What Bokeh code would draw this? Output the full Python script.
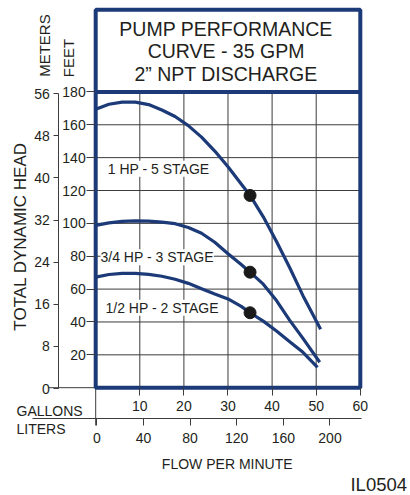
from bokeh.plotting import figure
from bokeh.models import Range1d, LinearAxis, FixedTicker, Label
from bokeh.embed import file_html
from bokeh.resources import INLINE

FONT = "Liberation Sans"
TEXT = "#231f20"
NAVY = "#1c3a78"
GRID = "#3c3c3c"

# ---------------- data ----------------
hp1_gpm = [0, 3, 6, 9, 12, 15, 18, 21, 24, 27, 30, 33, 35, 38, 41, 44, 47, 51]
hp1_ft = [169.5, 172.5, 173.8, 173.8, 172.3, 169, 165, 159.5, 152.5, 144, 134.5, 124, 117, 104, 89, 73, 56, 35.5]

hp34_gpm = [0, 3, 6, 9, 12, 15, 18, 21, 24, 27, 30, 33, 35, 38, 41, 44, 47, 50.8]
hp34_ft = [98.8, 100.3, 101.2, 101.5, 101.4, 100.8, 99.8, 97.5, 94, 88.5, 81.5, 75, 70.3, 63, 53, 41, 30, 15.5]

hp12_gpm = [0, 3, 6, 9, 12, 15, 18, 21, 24, 27, 30, 33, 35, 38, 41, 44, 47, 50.3]
hp12_ft = [67.3, 68.9, 69.6, 69.6, 69.0, 67.8, 66, 63.5, 60.2, 57, 54, 49.5, 45.6, 40.5, 34.5, 28, 21.5, 12.4]

duty_gpm = [35, 35, 35]
duty_ft = [117, 70.3, 45.6]

curve_labels = ["1 HP - 5 STAGE", "3/4 HP - 3 STAGE", "1/2 HP - 2 STAGE"]
title_lines = ["PUMP PERFORMANCE", "CURVE - 35 GPM", "2\u201d NPT DISCHARGE"]

gallon_ticks = [10, 20, 30, 40, 50, 60]
liter_ticks = [0, 40, 80, 120, 160, 200]
feet_ticks = [20, 40, 60, 80, 100, 120, 140, 160, 180]
meter_ticks = [0, 8, 16, 24, 32, 40, 48, 56]

GPM_MAX = 60
FT_PANEL = 180
FT_BOX_TOP = 230

# ---------------- figure (frame spans the whole canvas) ----------------
p = figure(width=410, height=495,
           x_range=Range1d(-21.587, 71.383), y_range=Range1d(-65.60, 235.62),
           x_axis_type=None, y_axis_type=None,
           output_backend="svg", toolbar_location=None)
p.min_border = 0
p.min_border_left = 0
p.min_border_right = 0
p.min_border_top = 0
p.min_border_bottom = 0
p.extra_x_ranges = {"liters": Range1d(-82.59, 269.04)}
p.extra_y_ranges = {"meters": Range1d(-20.29, 73.67)}
p.background_fill_color = "white"
p.border_fill_color = "white"
p.outline_line_color = None


def style_axis(ax, tick_out, standoff):
    ax.major_tick_out = tick_out
    ax.major_tick_in = 0
    ax.minor_tick_line_color = None
    ax.major_tick_line_color = GRID
    ax.major_tick_line_width = 1
    ax.major_label_text_font = FONT
    ax.major_label_text_font_size = "14px"
    ax.major_label_text_color = TEXT
    ax.major_label_standoff = standoff


# feet axis at the left edge of the box
fa = LinearAxis(ticker=FixedTicker(ticks=feet_ticks), fixed_location=0)
fa.axis_line_color = None
style_axis(fa, 9, 1)
p.add_layout(fa, "left")

# meters axis further left
ma = LinearAxis(y_range_name="meters", ticker=FixedTicker(ticks=meter_ticks),
                bounds=(0, 56), fixed_location=-8.37)
ma.axis_line_color = GRID
ma.axis_line_width = 1
style_axis(ma, 5, 4)
p.add_layout(ma, "left")

# gallons axis at the bottom edge of the box
ga = LinearAxis(ticker=FixedTicker(ticks=gallon_ticks), fixed_location=0)
ga.axis_line_color = None
style_axis(ga, 8, 5)
p.add_layout(ga, "below")

# liters axis below
la = LinearAxis(x_range_name="liters", ticker=FixedTicker(ticks=liter_ticks),
                bounds=(-55.4, 227.0), fixed_location=-18.93)
la.axis_line_color = GRID
la.axis_line_width = 1
style_axis(la, 7, 7)
p.add_layout(la, "below")

# grid lines inside the box
vg = [t for t in gallon_ticks if t < GPM_MAX]
hg = [t for t in feet_ticks if t < FT_PANEL]
p.segment(x0=vg, y0=[0] * len(vg), x1=vg, y1=[FT_PANEL] * len(vg),
          line_color=GRID, line_width=1)
p.segment(x0=[0] * len(hg), y0=hg, x1=[GPM_MAX] * len(hg), y1=hg,
          line_color=GRID, line_width=1)

# extra rule lines: meters zero line, zero-flow line
p.segment(x0=[-10.7, 0], y0=[0, 0], x1=[0, 0], y1=[0, -23.0],
          line_color=GRID, line_width=1)

# box and title divider
p.quad(left=[0], right=[GPM_MAX], bottom=[0], top=[FT_BOX_TOP],
       fill_color=None, line_color=NAVY, line_width=4)
p.line([0, GPM_MAX], [FT_PANEL, FT_PANEL], line_color=NAVY, line_width=4)

# curves
for xs, ys in ((hp1_gpm, hp1_ft), (hp34_gpm, hp34_ft), (hp12_gpm, hp12_ft)):
    p.line(xs, ys, line_color=NAVY, line_width=3.2)
p.scatter(duty_gpm, duty_ft, size=12, color="#1a1a1a")

# curve labels
label_pos = [(2.74, 133.2), (1.09, 79.4), (2.22, 48.6)]
for txt, (lx, ly) in zip(curve_labels, label_pos):
    p.add_layout(Label(x=lx, y=ly, text=txt, text_font=FONT, text_font_size="14px",
                       text_color=TEXT, text_align="left", text_baseline="middle",
                       background_fill_color="white"))

# title
for txt, ty in zip(title_lines, [218.4, 204.6, 190.6]):
    p.add_layout(Label(x=29.55, y=ty, text=txt, text_font=FONT, text_font_size="19.5px",
                       text_color=TEXT, text_align="center", text_baseline="middle"))


def side_label(x, y, txt, size, angle=0, align="left"):
    p.add_layout(Label(x=x, y=y, text=txt, text_font=FONT, text_font_size=size,
                       text_color=TEXT, text_align=align, text_baseline="middle",
                       angle=angle, angle_units="deg"))


side_label(-11.61, 208.2, "METERS", "15px", 90, "center")
side_label(-6.17, 200.6, "FEET", "15px", 90, "center")
side_label(-16.94, 92.0, "TOTAL DYNAMIC HEAD", "17px", 90, "center")
side_label(-17.96, -14.3, "GALLONS", "14px")
side_label(-17.96, -25.4, "LITERS", "14px")
side_label(29.82, -46.7, "FLOW PER MINUTE", "14px", 0, "center")
side_label(70.6, -58.9, "IL0504", "18.5px", 0, "right")

open("out.html", "w").write(file_html(p, INLINE))
